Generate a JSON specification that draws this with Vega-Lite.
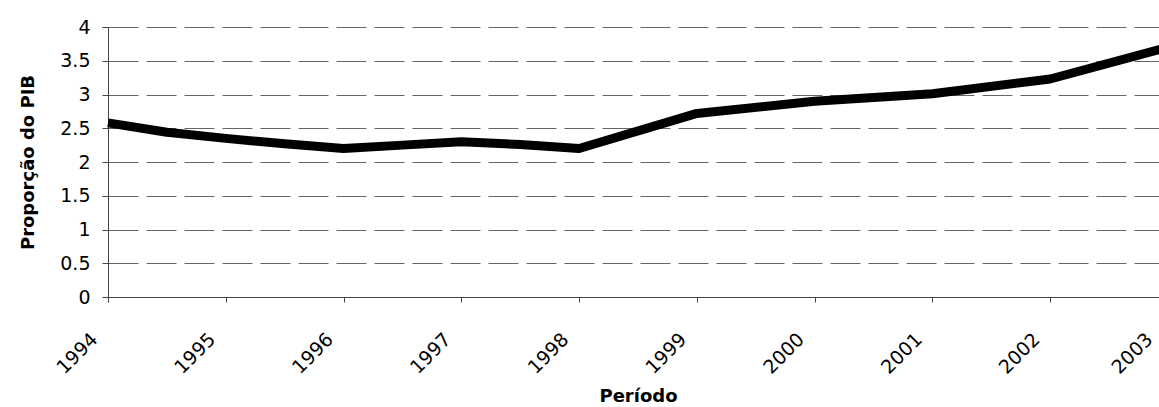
{
  "$schema": "https://vega.github.io/schema/vega-lite/v6.json",
  "autosize": "none",
  "width": 1051,
  "height": 270,
  "padding": {"left": 108, "top": 27, "right": 0, "bottom": 110},
  "background": "white",
  "config": {"view": {"stroke": null}, "font": "DejaVu Sans"},
  "data": {"values": [
    {"ano": 1994, "valor": 2.58},
    {"ano": 1994.5, "valor": 2.44},
    {"ano": 1995, "valor": 2.35},
    {"ano": 1995.5, "valor": 2.27},
    {"ano": 1996, "valor": 2.2},
    {"ano": 1996.5, "valor": 2.25},
    {"ano": 1997, "valor": 2.3},
    {"ano": 1997.5, "valor": 2.26},
    {"ano": 1998, "valor": 2.2},
    {"ano": 1999, "valor": 2.72},
    {"ano": 2000, "valor": 2.9},
    {"ano": 2001, "valor": 3.01},
    {"ano": 2002, "valor": 3.23},
    {"ano": 2003, "valor": 3.7}
  ]},
  "mark": {"type": "line", "color": "black", "strokeWidth": 9, "strokeJoin": "round", "clip": false},
  "encoding": {
    "x": {
      "field": "ano", "type": "quantitative",
      "scale": {"domain": [1994, 2003], "range": [0, 1060], "nice": false, "zero": false},
      "axis": {
        "title": "Período", "titleFontSize": 18, "titleFontWeight": "bold", "titleColor": "black",
        "titleX": 530, "titleY": 104, "titleAlign": "center", "titleBaseline": "alphabetic",
        "values": [1994, 1995, 1996, 1997, 1998, 1999, 2000, 2001, 2002, 2003],
        "format": "d", "labelAngle": -45, "labelAlign": "right", "labelBaseline": "middle",
        "labelFontSize": 19, "labelColor": "black", "labelPadding": 34,
        "labelOffset": {"condition": {"test": "datum.value == 2003", "value": -19}, "value": -14},
        "labelOverlap": false, "labelFlush": false, "labelBound": false,
        "grid": false, "tickColor": "#444", "tickSize": 5, "domainColor": "#444"
      }
    },
    "y": {
      "field": "valor", "type": "quantitative",
      "scale": {"domain": [0, 4], "nice": false},
      "axis": {
        "title": "Proporção do PIB", "titleFontSize": 18, "titleFontWeight": "bold", "titleColor": "black", "titlePadding": 22,
        "values": [0, 0.5, 1, 1.5, 2, 2.5, 3, 3.5, 4], "format": "~g",
        "labelFontSize": 19, "labelColor": "black", "labelPadding": 12,
        "grid": true, "gridColor": "#666", "gridDash": [30, 8], "gridWidth": 1,
        "tickColor": "#444", "tickSize": 6, "domainColor": "#444"
      }
    }
  }
}
